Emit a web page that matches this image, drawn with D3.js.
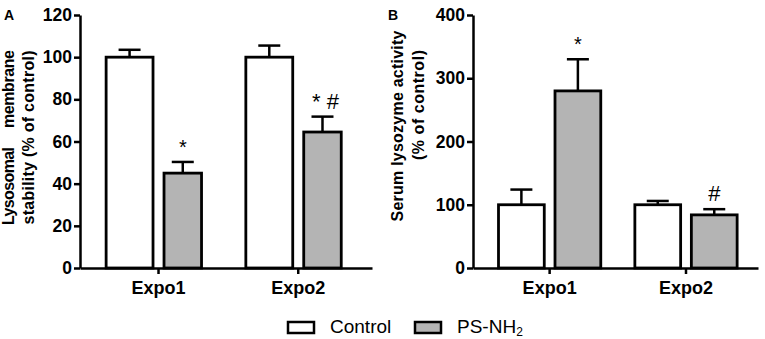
<!DOCTYPE html>
<html>
<head>
<meta charset="utf-8">
<script src="https://cdn.jsdelivr.net/npm/d3@7"></script>
<style>
  body { margin: 0; background: #fff; }
  text { font-family: Arial, "Liberation Sans", sans-serif; }
</style>
</head>
<body>
<svg id="chart" width="765" height="339"></svg>
<script>
// data
var groups = ['Expo1', 'Expo2'];
var series = ['Control', 'PS-NH2'];

var lysoMean = [[100, 45], [100, 64.5]];
var lysoErr = [[103.5, 50.3], [105.5, 71.8]];
var lysoTicks = [0, 20, 40, 60, 80, 100, 120];
var lysoMarks = [['', '*'], ['', '* #']];

var serumMean = [[100, 280], [100, 84]];
var serumErr = [[124, 330], [106, 93]];
var serumTicks = [0, 100, 200, 300, 400];
var serumMarks = [['', '*'], ['', '#']];

var colors = ['#ffffff', '#b4b4b4'];

var svg = d3.select('#chart');

function drawPanel(opt) {
    var g = svg.append('g');

    var y = d3.scaleLinear().domain(opt.domain).range([268, 15]);
    var x0 = d3.scaleBand().domain(groups).range([opt.x0, opt.x1])
        .paddingInner(0.25).paddingOuter(0.17).align(0.55);
    var x1 = d3.scaleBand().domain(series).range([0, x0.bandwidth()]).paddingInner(0.19);

    // bars
    groups.forEach(function(grp, gi) {
        series.forEach(function(s, si) {
            var bx = x0(grp) + x1(s);
            var bw = x1.bandwidth() * opt.widthScale[si];
            var cx = bx + bw / 2;
            var top = y(opt.mean[gi][si]);
            var et = y(opt.err[gi][si]);

            g.append('line').attr('x1', cx).attr('x2', cx).attr('y1', top).attr('y2', et)
                .attr('stroke', '#000').attr('stroke-width', 2.5);
            g.append('line').attr('x1', cx - 11).attr('x2', cx + 11).attr('y1', et).attr('y2', et)
                .attr('stroke', '#000').attr('stroke-width', 2.5);

            g.append('rect')
                .attr('x', bx).attr('y', top)
                .attr('width', bw).attr('height', y(0) - top)
                .attr('fill', colors[si]).attr('stroke', '#000').attr('stroke-width', 2.8);

            if (opt.marks[gi][si]) {
                var m = opt.marks[gi][si];
                g.append('text')
                    .attr('x', cx + (m === '* #' ? 3 : 0))
                    .attr('y', et - 8)
                    .attr('text-anchor', 'middle')
                    .attr('font-size', m === '*' ? '20px' : '22px')
                    .text(m);
            }
        });
    });

    // axes
    var yAxis = g.append('g').attr('transform', 'translate(' + opt.x0 + ',0)')
        .call(d3.axisLeft(y).tickValues(opt.ticks).tickSize(6).tickSizeOuter(0));
    var xAxis = g.append('g').attr('transform', 'translate(0,' + y(0) + ')')
        .call(d3.axisBottom(x0).tickSize(6).tickSizeOuter(0));
    [yAxis, xAxis].forEach(function(a) {
        a.select('.domain').attr('stroke', '#000').attr('stroke-width', 2.5);
        a.selectAll('.tick line').attr('stroke', '#000').attr('stroke-width', 2.5);
        a.selectAll('text').attr('fill', '#000').attr('font-weight', 'bold')
            .attr('font-family', 'Arial, "Liberation Sans", sans-serif');
    });
    yAxis.selectAll('text').attr('font-size', '17.5px').attr('x', -8);
    xAxis.selectAll('text').attr('font-size', '18px').attr('y', 13);

    // panel letter
    g.append('text').attr('x', opt.letterX).attr('y', 20)
        .attr('font-size', '14px').attr('font-weight', 'bold').text(opt.letter);

    // y title
    opt.title.forEach(function(t) {
        var el = g.append('text')
            .attr('transform', 'translate(' + t.x + ',' + t.y + ') rotate(-90)')
            .attr('text-anchor', t.anchor || 'middle')
            .attr('font-size', t.size).attr('font-weight', 'bold')
            .text(t.text);
        if (t.len) el.attr('textLength', t.len).attr('lengthAdjust', 'spacing');
    });
}

drawPanel({
    x0: 80, x1: 372, domain: [0, 120], ticks: lysoTicks,
    mean: lysoMean, err: lysoErr, marks: lysoMarks,
    widthScale: [1, 0.8],
    letter: 'A', letterX: 4,
    title: [
        { text: 'Lysosomal', x: 14, y: 225, anchor: 'start', size: '16px', len: 78 },
        { text: 'membrane', x: 14, y: 50, anchor: 'end', size: '16px', len: 78 },
        { text: 'stability (% of control)', x: 34, y: 137.5, size: '16px', len: 174 }
    ]
});

drawPanel({
    x0: 473, x1: 758, domain: [0, 400], ticks: serumTicks,
    mean: serumMean, err: serumErr, marks: serumMarks,
    widthScale: [1, 1],
    letter: 'B', letterX: 388,
    title: [
        { text: 'Serum lysozyme activity', x: 403, y: 126, size: '16px', len: 191 },
        { text: '(% of control)', x: 424, y: 105, size: '16px', len: 110 }
    ]
});

// legend
var legend = svg.append('g');
var legendX = [288, 415];
series.forEach(function(s, i) {
    legend.append('rect').attr('x', legendX[i]).attr('y', 322)
        .attr('width', 26).attr('height', 11)
        .attr('fill', colors[i]).attr('stroke', '#000').attr('stroke-width', 2.5);
    var t = legend.append('text').attr('x', legendX[i] + 42).attr('y', 333)
        .attr('font-size', '19px');
    if (s === 'PS-NH2') {
        t.append('tspan').text('PS-NH');
        t.append('tspan').attr('font-size', '12px').attr('dy', 3).text('2');
    } else {
        t.text(s);
    }
});
</script>
</body>
</html>
